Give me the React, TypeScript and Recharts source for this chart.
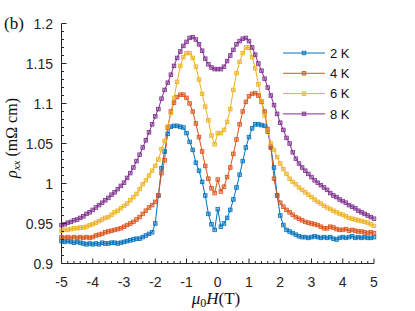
import { Legend, Line, LineChart, XAxis, YAxis } from "recharts";

const fieldT = [
  -5.0, -4.9, -4.8, -4.7, -4.6, -4.5, -4.4, -4.3, -4.2, -4.1,
  -4.0, -3.9, -3.8, -3.7, -3.6, -3.5, -3.4, -3.3, -3.2, -3.1,
  -3.0, -2.9, -2.8, -2.7, -2.6, -2.5, -2.4, -2.3, -2.2, -2.1,
  -2.0, -1.9, -1.8, -1.7, -1.6, -1.5, -1.4, -1.3, -1.2, -1.1,
  -1.0, -0.9, -0.8, -0.7, -0.6, -0.5, -0.4, -0.3, -0.2, -0.1,
  0.0, 0.1, 0.2, 0.3, 0.4, 0.5, 0.6, 0.7, 0.8, 0.9,
  1.0, 1.1, 1.2, 1.3, 1.4, 1.5, 1.6, 1.7, 1.8, 1.9,
  2.0, 2.1, 2.2, 2.3, 2.4, 2.5, 2.6, 2.7, 2.8, 2.9,
  3.0, 3.1, 3.2, 3.3, 3.4, 3.5, 3.6, 3.7, 3.8, 3.9,
  4.0, 4.1, 4.2, 4.3, 4.4, 4.5, 4.6, 4.7, 4.8, 4.9,
  5.0,
];

const rho2K = [
  0.928, 0.927, 0.928, 0.927, 0.926, 0.927, 0.926, 0.925, 0.924, 0.925,
  0.924, 0.925, 0.924, 0.926, 0.925, 0.925, 0.926, 0.926, 0.925, 0.926,
  0.927, 0.928, 0.929, 0.93, 0.931, 0.931, 0.933, 0.935, 0.937, 0.939,
  0.95, 0.985, 1.019, 1.04, 1.062, 1.071, 1.072, 1.072, 1.071, 1.07,
  1.063, 1.052, 1.042, 1.026, 1.016, 1.002, 0.985, 0.962, 0.949, 0.942,
  0.968, 0.946, 0.95, 0.957, 0.967, 0.98, 0.995, 1.011, 1.028, 1.045,
  1.058, 1.069, 1.074, 1.074, 1.073, 1.072, 1.065, 1.045, 1.02, 0.985,
  0.96, 0.948, 0.942, 0.94, 0.938, 0.936, 0.934, 0.933, 0.933, 0.932,
  0.933, 0.934, 0.933, 0.932, 0.933, 0.932, 0.933, 0.931, 0.93, 0.932,
  0.933, 0.932, 0.933, 0.934, 0.932, 0.933, 0.932, 0.933, 0.932, 0.932,
  0.933,
];

const rho4K = [
  0.933, 0.932, 0.933, 0.932, 0.933, 0.932, 0.933, 0.932, 0.933, 0.932,
  0.933, 0.935, 0.936, 0.937, 0.939, 0.94, 0.941, 0.942, 0.943, 0.944,
  0.946, 0.948, 0.95, 0.952, 0.955, 0.958, 0.962, 0.966, 0.97, 0.973,
  0.977, 0.985, 1.013, 1.029, 1.07, 1.09, 1.101, 1.108, 1.111, 1.111,
  1.107, 1.1, 1.09, 1.075, 1.058, 1.04, 1.022, 1.006, 0.994, 0.988,
  1.005, 0.99, 0.996, 1.008, 1.02, 1.037, 1.055, 1.074, 1.09, 1.102,
  1.109, 1.112, 1.113, 1.11, 1.102, 1.09, 1.068, 1.046, 1.006, 0.985,
  0.976, 0.971, 0.967, 0.964, 0.961, 0.958, 0.956, 0.954, 0.952, 0.951,
  0.95, 0.949, 0.948, 0.946, 0.944, 0.944, 0.946, 0.945, 0.943, 0.942,
  0.942, 0.943, 0.941, 0.942, 0.941, 0.94, 0.94, 0.939, 0.938, 0.939,
  0.938,
];

const rho6K = [
  0.941, 0.942, 0.942, 0.943, 0.944, 0.944, 0.945, 0.945, 0.946, 0.948,
  0.949, 0.951, 0.953, 0.955, 0.957, 0.958, 0.961, 0.964, 0.966, 0.969,
  0.972, 0.975, 0.979, 0.983, 0.987, 0.993, 0.999, 1.004, 1.01, 1.016,
  1.022, 1.03, 1.043, 1.053, 1.071, 1.088, 1.107, 1.127, 1.147, 1.158,
  1.163, 1.163, 1.157, 1.146, 1.13, 1.112, 1.096, 1.079, 1.06, 1.049,
  1.063, 1.063, 1.067, 1.077, 1.093, 1.117, 1.138, 1.152, 1.163, 1.17,
  1.17, 1.158, 1.144, 1.124, 1.103, 1.085, 1.066, 1.05, 1.042, 1.033,
  1.025, 1.018, 1.012, 1.006, 1.002, 0.999, 0.995, 0.992, 0.989, 0.986,
  0.983, 0.98, 0.977, 0.975, 0.972, 0.97, 0.968, 0.966, 0.964, 0.962,
  0.961, 0.959, 0.957, 0.956, 0.955, 0.954, 0.953, 0.952, 0.951, 0.949,
  0.947,
];

const rho8K = [
  0.948, 0.949, 0.951, 0.952, 0.954, 0.955, 0.957, 0.959, 0.962, 0.964,
  0.967, 0.97, 0.973, 0.976, 0.979, 0.982, 0.986, 0.989, 0.993, 0.997,
  1.001, 1.007, 1.013, 1.02, 1.028, 1.036, 1.045, 1.054, 1.064, 1.074,
  1.084, 1.093, 1.106, 1.117, 1.126, 1.136, 1.147, 1.157, 1.165, 1.172,
  1.177, 1.182, 1.183, 1.18, 1.174, 1.166, 1.156, 1.149, 1.145, 1.143,
  1.143, 1.143, 1.146, 1.153, 1.16, 1.167, 1.174, 1.178, 1.181, 1.182,
  1.178, 1.17, 1.161, 1.15, 1.141, 1.131, 1.12, 1.11, 1.098, 1.087,
  1.076, 1.067, 1.057, 1.05, 1.039, 1.031, 1.025, 1.02, 1.016, 1.012,
  1.008, 1.004, 1.001, 0.998, 0.995, 0.992, 0.988, 0.985, 0.983, 0.98,
  0.978, 0.976, 0.973, 0.971, 0.969, 0.966, 0.964, 0.962, 0.96, 0.958,
  0.956,
];

const xMajor = [-5, -4, -3, -2, -1, 0, 1, 2, 3, 4, 5];
const yMajor = [0.9, 0.95, 1, 1.05, 1.1, 1.15, 1.2];
// minor ticks: 0.2 T on x, 0.01 on y
const xTicks = Array.from({ length: 51 }, (_, i) => Math.round((-5 + i * 0.2) * 10) / 10);
const yTicks = Array.from({ length: 31 }, (_, i) => Math.round((0.9 + i * 0.01) * 100) / 100);

const series = [
  { key: "k2", name: "2 K", color: "#0072BD" },
  { key: "k4", name: "4 K", color: "#D95319" },
  { key: "k6", name: "6 K", color: "#EDB120" },
  { key: "k8", name: "8 K", color: "#7E2F8E" },
];

const data = fieldT.map((h, i) => ({
  h,
  k2: rho2K[i],
  k4: rho4K[i],
  k6: rho6K[i],
  k8: rho8K[i],
}));

const AXIS = "#262626";
const SANS = "'Liberation Sans', Arial, sans-serif";
const SERIF = "'Liberation Serif', 'Times New Roman', serif";

const isMajorX = (v: number) => xMajor.some((m) => Math.abs(m - v) < 1e-6);
const isMajorY = (v: number) => yMajor.some((m) => Math.abs(m - v) < 1e-6);

const BottomTick = ({ x, y, payload }: any) => {
  const major = isMajorX(payload.value);
  return (
    <g>
      <line x1={x} x2={x} y1={y} y2={y - (major ? 5 : 2.5)} stroke={AXIS} />
      {major && (
        <text x={x} y={y + 23.5} textAnchor="middle" fontSize={14} fontFamily={SANS} fill={AXIS}>
          {Math.round(payload.value)}
        </text>
      )}
    </g>
  );
};

const TopTick = ({ x, y, payload }: any) => (
  <line x1={x} x2={x} y1={y} y2={y + (isMajorX(payload.value) ? 5 : 2.5)} stroke={AXIS} />
);

const LeftTick = ({ x, y, payload }: any) => {
  const major = isMajorY(payload.value);
  return (
    <g>
      <line x1={x} x2={x + (major ? 5 : 2.5)} y1={y} y2={y} stroke={AXIS} />
      {major && (
        <text x={x - 8.5} y={y + 5} textAnchor="end" fontSize={14} fontFamily={SANS} fill={AXIS}>
          {String(Number(payload.value.toFixed(2)))}
        </text>
      )}
    </g>
  );
};

const RightTick = ({ x, y, payload }: any) => (
  <line x1={x} x2={x - (isMajorY(payload.value) ? 5 : 2.5)} y1={y} y2={y} stroke={AXIS} />
);

const squareDot = (color: string) => (props: any) => {
  const { cx, cy, index } = props;
  if (cx == null || cy == null) return <g key={index} />;
  return (
    <rect
      key={index}
      x={cx - 1.8}
      y={cy - 1.8}
      width={3.6}
      height={3.6}
      fill={color}
      fillOpacity={0.45}
      stroke={color}
      strokeWidth={0.8}
    />
  );
};

const LegendBox = () => (
  <svg width={100} height={90}>
    {series.map((s, i) => {
      const y = 10 + i * 20.3;
      return (
        <g key={s.key}>
          <line x1={0} x2={42} y1={y} y2={y} stroke={s.color} strokeWidth={1} />
          <rect x={19.2} y={y - 1.8} width={3.6} height={3.6} fill={s.color} fillOpacity={0.45} stroke={s.color} strokeWidth={0.8} />
          <text x={47} y={y + 4.6} fontSize={13} fontFamily={SANS} fill="#111">
            {s.name}
          </text>
        </g>
      );
    })}
  </svg>
);

export default function App() {
  return (
    <div style={{ position: "absolute", left: 0, top: 0, width: 415, height: 311, background: "#fff" }}>
      <LineChart width={415} height={311} data={data} margin={{ top: 23.5, right: 41, bottom: 0, left: 0 }}>
        <XAxis
          dataKey="h"
          type="number"
          domain={[-5, 5]}
          ticks={xTicks}
          interval={0}
          height={47.5}
          tickSize={0}
          tickMargin={0}
          tick={BottomTick}
          stroke={AXIS}
        />
        <XAxis
          xAxisId="top"
          orientation="top"
          type="number"
          domain={[-5, 5]}
          ticks={xTicks}
          interval={0}
          height={0}
          tickSize={0}
          tickMargin={0}
          tick={TopTick}
          stroke={AXIS}
        />
        <YAxis
          type="number"
          domain={[0.9, 1.2]}
          ticks={yTicks}
          interval={0}
          width={61.5}
          tickSize={0}
          tickMargin={0}
          tick={LeftTick}
          stroke={AXIS}
        />
        <YAxis
          yAxisId="right"
          orientation="right"
          type="number"
          domain={[0.9, 1.2]}
          ticks={yTicks}
          interval={0}
          width={0}
          tickSize={0}
          tickMargin={0}
          tick={RightTick}
          stroke={AXIS}
        />
        {series.map((s) => (
          <Line
            key={s.key}
            dataKey={s.key}
            name={s.name}
            stroke={s.color}
            strokeWidth={1}
            dot={squareDot(s.color)}
            activeDot={false}
            isAnimationActive={false}
          />
        ))}
        <Legend
          layout="horizontal"
          verticalAlign="middle"
          align="center"
          content={LegendBox}
          wrapperStyle={{ position: "absolute", left: 283, top: 43, width: 100, height: 90 }}
        />
      </LineChart>
      <svg width={415} height={311} style={{ position: "absolute", left: 0, top: 0, pointerEvents: "none" }}>
        <text x={4} y={29} fontSize={17} fontFamily={SERIF} fill="#111">
          (b)
        </text>
        <text
          x={17}
          y={138}
          transform="rotate(-90, 17, 138)"
          textAnchor="middle"
          fontSize={16}
          fontFamily={SERIF}
          fill="#111"
        >
          <tspan fontStyle="italic">ρ</tspan>
          <tspan fontStyle="italic" fontSize={11} dy={3}>xx</tspan>
          <tspan dy={-3}> (mΩ cm)</tspan>
        </text>
        <text x={216} y={304} textAnchor="middle" fontSize={17} fontFamily={SERIF} fill="#111">
          <tspan fontStyle="italic">μ</tspan>
          <tspan fontSize={12} dy={3}>0</tspan>
          <tspan fontStyle="italic" dy={-3}>H</tspan>
          <tspan>(T)</tspan>
        </text>
      </svg>
    </div>
  );
}
